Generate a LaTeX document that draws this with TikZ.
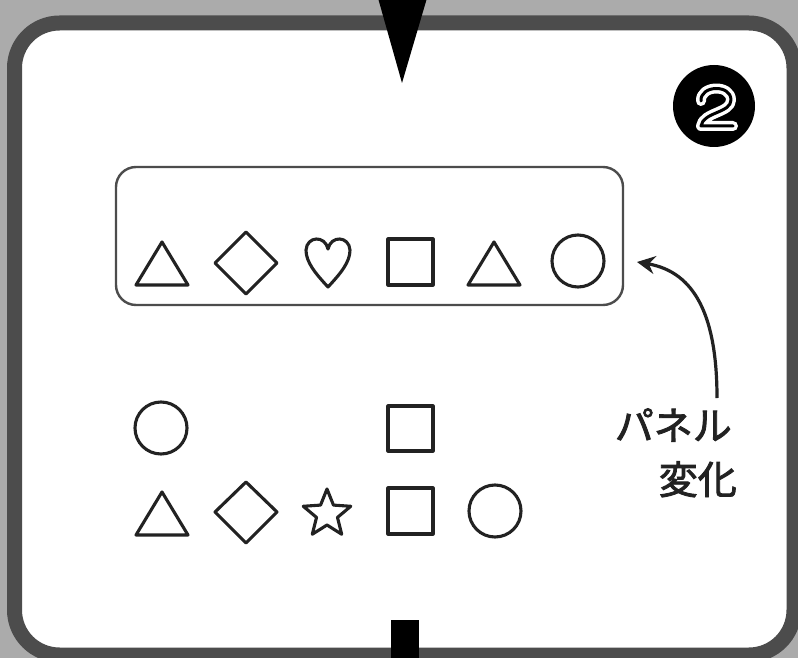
\documentclass[tikz,border=0pt]{standalone}
\usepackage{fontspec}
\newfontfamily\cjk{Noto Sans CJK JP}[FakeBold=2.2]
\usetikzlibrary{arrows.meta}
\definecolor{bgray}{HTML}{ABABAB}
\definecolor{frame}{HTML}{4C4C4C}
\definecolor{ink}{HTML}{222222}
\begin{document}
\begin{tikzpicture}[x=1pt,y=-1pt,
  shp/.style={draw=ink, line width=3.1pt, line join=round},
  lbl/.style={anchor=base east, inner sep=0pt, font=\cjk\fontsize{39}{39}\selectfont, text=ink}]
\useasboundingbox (0,0) rectangle (798,658);
% background and frame
\fill[bgray] (0,0) rectangle (798,658);
\draw[line width=15pt, draw=frame, fill=white, rounded corners=45pt] (14.5,23) rectangle (794,655);
% top pointer and bottom stub
\fill[black] (378,-2) -- (427,-2) -- (402,83) -- cycle;
\fill[black] (391,620) rectangle (419,662);
% number badge
\fill[black] (714,106) circle[radius=41pt];
\draw[white, line width=10pt, line cap=round, line join=round]
  (701,101) .. controls (700,85) and (731,84) .. (731,100) .. controls (731,113) and (703,112) .. (701,126) -- (733,126);
\draw[black, line width=3pt, line cap=round, line join=round]
  (701,101) .. controls (700,85) and (731,84) .. (731,100) .. controls (731,113) and (703,112) .. (701,126) -- (733,126);
% panel box
\node[draw=frame, line width=2.4pt, rounded corners=20pt, minimum width=507pt, minimum height=138pt, inner sep=0pt] (panel) at (369.5,236) {};
% top row shapes
\draw[shp] (162,242) -- (188,285) -- (136,285) -- cycle;
\draw[shp] (246,232) -- (277,263) -- (246,294) -- (215,263) -- cycle;
\draw[shp] (328,287) .. controls (315,273) and (306,262) .. (306,250) .. controls (307,236) and (325,235) .. (328,249) .. controls (331,235) and (349,236) .. (350,250) .. controls (350,262) and (341,273) .. (328,287) -- cycle;
\draw[shp] (388,239) rectangle (433,285);
\draw[shp] (494,242) -- (520,285) -- (468,285) -- cycle;
\draw[shp] (578,261) circle[radius=26pt];
% lower shapes
\draw[shp] (161,428) circle[radius=26pt];
\draw[shp] (388,406) rectangle (433,451);
\draw[shp] (162,492) -- (188,535) -- (136,535) -- cycle;
\draw[shp] (246,482) -- (277,512) -- (246,543) -- (215,512) -- cycle;
\draw[shp] (327,514) +(90:25pt) -- +(126:11pt) -- +(162:25pt) -- +(198:11pt) -- +(234:25pt) -- +(270:11pt) -- +(306:25pt) -- +(342:11pt) -- +(18:25pt) -- +(54:11pt) -- cycle;
\draw[shp] (388,488) rectangle (433,534);
\draw[shp] (495,511) circle[radius=26pt];
% labels
\node[lbl] (lbl1) at (732,440) {パネル};
\node[lbl] (lbl2) at (737,494) {変化};
% arrow
\coordinate (astart) at (717,398);
\coordinate (aend) at (637,262);
\draw[ink, line width=3.2pt, -{Stealth[length=18pt,width=18pt,inset=6pt]}] (astart) .. controls (717,318) and (696,272) .. (aend);
\end{tikzpicture}
\end{document}
